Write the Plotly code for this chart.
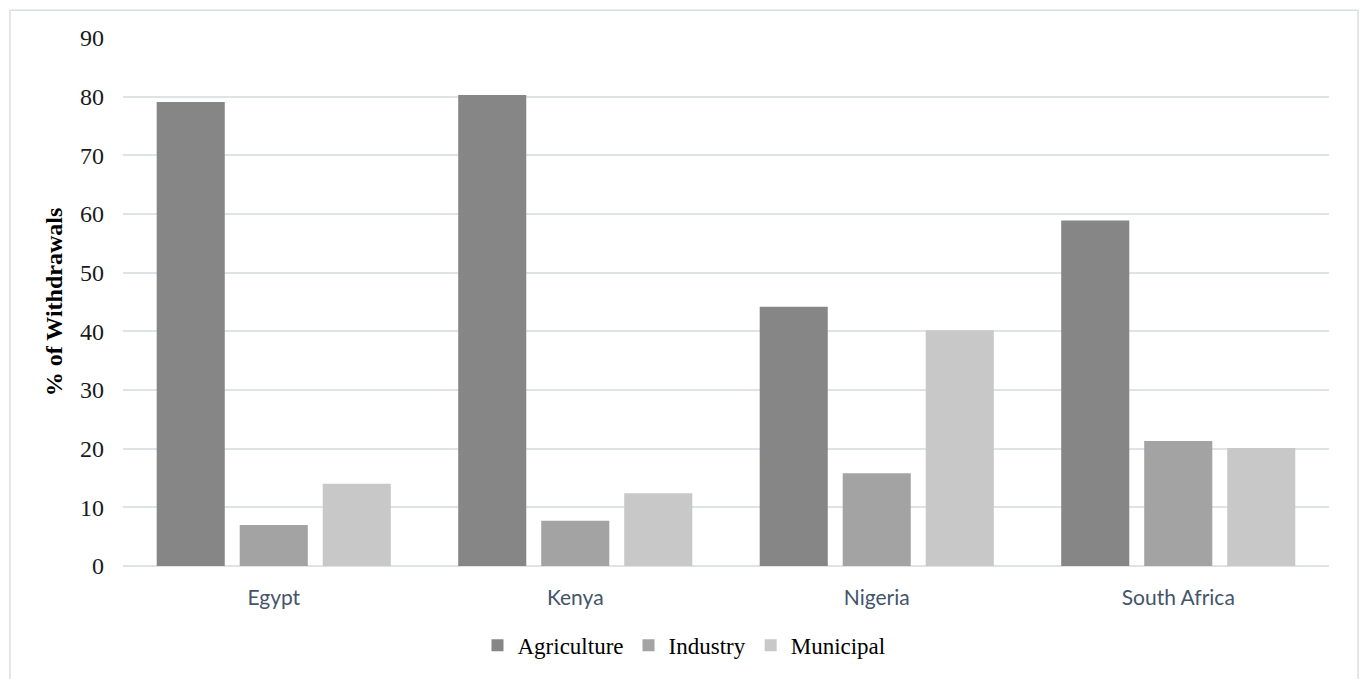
import plotly.graph_objects as go

countries = ["Egypt", "Kenya", "Nigeria", "South Africa"]
agriculture = [79.1, 80.3, 44.2, 58.9]
industry = [7.0, 7.7, 15.8, 21.3]
municipal = [14.0, 12.4, 40.2, 20.1]
y_ticks = [0, 10, 20, 30, 40, 50, 60, 70, 80, 90]

series = [
    ("Agriculture", agriculture, "#868686"),
    ("Industry", industry, "#a3a3a3"),
    ("Municipal", municipal, "#c8c8c8"),
]

fig = go.Figure()
for name, vals, col in series:
    fig.add_trace(go.Bar(
        x=countries, y=vals, name=name,
        marker=dict(color=col, line=dict(width=0)),
        hoverinfo="x+y+name",
    ))

L, R, T, B = 123, 33, 38, 108
W, H = 1362, 679
pw = W - L - R
ph = H - T - B

grid_col = "#dfe3e8"

fig.update_layout(
    width=W, height=H,
    margin=dict(l=L, r=R, t=T, b=B, pad=0),
    paper_bgcolor="white", plot_bgcolor="white",
    barmode="group", bargap=0.174, bargroupgap=0.18,
    font=dict(family="Liberation Serif, Times New Roman, serif", size=23, color="#000000"),
    showlegend=True,
    legend=dict(
        orientation="h", x=(684 - L) / pw, xanchor="center",
        y=(H - B - 651) / ph, yanchor="middle",
        font=dict(family="Liberation Serif, Times New Roman, serif", size=23, color="#000000"),
        itemwidth=30, tracegroupgap=0, bgcolor="rgba(0,0,0,0)",
    ),
    xaxis=dict(
        showgrid=False, showline=False, zeroline=False,
        ticks="", ticklabelstandoff=17,
        tickfont=dict(family="Lato, Open Sans, sans-serif", size=21, color="#44546a"),
    ),
    yaxis=dict(
        range=[0, 90], tickvals=y_ticks, ticktext=[str(v) for v in y_ticks],
        showgrid=True, gridcolor=grid_col, gridwidth=1.5,
        zeroline=True, zerolinecolor=grid_col, zerolinewidth=1.5,
        showline=False, ticks="", ticklabelstandoff=18,
        tickfont=dict(family="Liberation Serif, Times New Roman, serif", size=24, color="#1a1a1a"),
        title=dict(text="<b>% of Withdrawals</b>", standoff=10,
                   font=dict(family="Liberation Serif, Times New Roman, serif", size=24, color="#000000")),
    ),
    shapes=[dict(
        type="rect", xref="paper", yref="paper",
        x0=(10 - L) / pw, x1=(1358 - L) / pw,
        y0=(H - B - 700) / ph, y1=(H - B - 10) / ph,
        line=dict(color="#d9dde3", width=1.5), fillcolor="rgba(0,0,0,0)", layer="below",
    )],
)

fig.write_html("out.html")
